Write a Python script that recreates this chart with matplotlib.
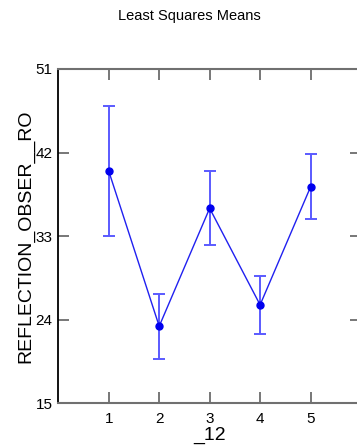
import matplotlib
matplotlib.use("Agg")
import matplotlib.pyplot as plt

# Least squares means with error bars
levels = [1, 2, 3, 4, 5]
means = [40.0, 23.3, 36.0, 25.6, 38.3]
errs = [7.0, 3.5, 4.0, 3.1, 3.5]
yticks = [15, 24, 33, 42, 51]

plt.rcParams['font.family'] = ['Liberation Sans', 'DejaVu Sans']

fig = plt.figure(figsize=(3.57, 4.46), dpi=100)
# axes: left 58px, right ~361px (past the edge), top 69px, bottom 403px
W, H = 357.0, 446.0
ax = fig.add_axes([58.3 / W, 1 - 403.3 / H, (361 - 58.3) / W, (403.3 - 69) / H])

ax.errorbar(levels, means, yerr=errs, fmt='none', ecolor='#5a5aff',
            elinewidth=1.4, capsize=4, capthick=1.4, zorder=2)
ax.plot(levels, means, color='#2020f0', linewidth=1.0, marker='o',
        markersize=5, markerfacecolor='#0000ee', markeredgecolor='#0000ee', zorder=3)

ax.set_xlim(0, 6)
ax.set_ylim(15, 51)
ax.set_xticks(levels)
ax.set_yticks(yticks)

ax.tick_params(axis='both', direction='in', length=8, width=1.2, colors='#606060',
               labelcolor='black', labelsize=11)
ax.tick_params(axis='x', top=True, pad=6)
ax.tick_params(axis='y', right=True, pad=4)

for side in ['top', 'bottom']:
    ax.spines[side].set_color('#707070')
    ax.spines[side].set_linewidth(1.5)
ax.spines['left'].set_color('black')
ax.spines['left'].set_linewidth(1.3)
ax.spines['right'].set_visible(False)

ax.set_ylabel('REFLECTION_OBSER__RO', fontsize=14, va='center')
ax.yaxis.set_label_coords(-0.107, 0.5)
ax.set_xlabel('_12', fontsize=14, va='center')
ax.xaxis.set_label_coords(0.5, -0.095)

fig.text(189 / W, 1 - 16 / H, 'Least Squares Means', fontsize=10.5, ha='center', va='center')

fig.savefig('out.png', dpi=100)
plt.close(fig)
